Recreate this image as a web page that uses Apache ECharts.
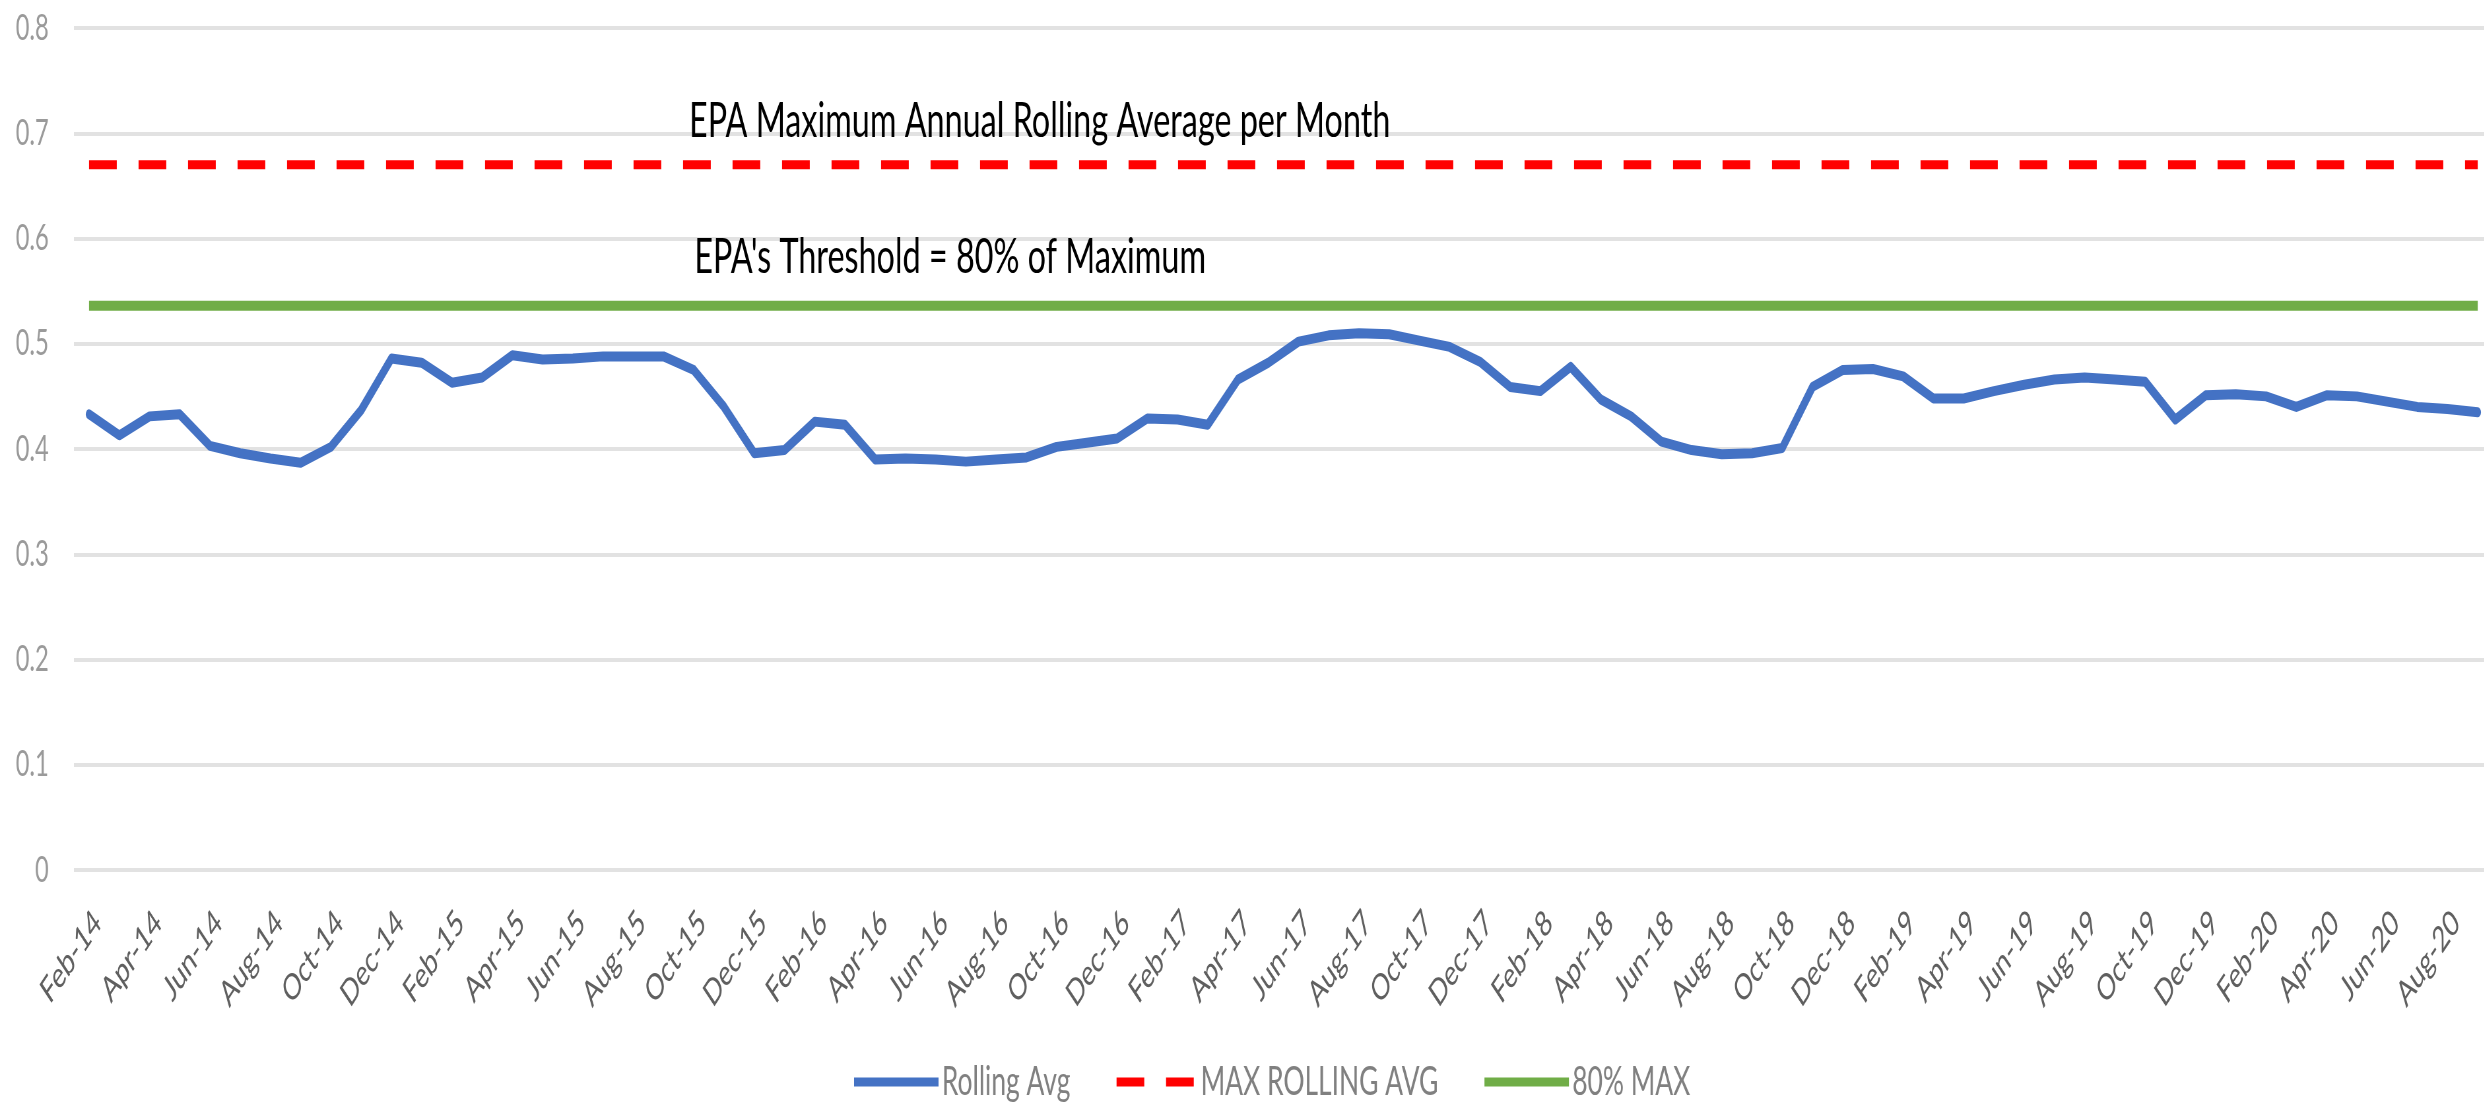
<!DOCTYPE html>
<html>
<head>
<meta charset="utf-8">
<script src="https://cdn.jsdelivr.net/npm/echarts/dist/echarts.min.js"></script>
<style>
html, body { margin: 0; padding: 0; background: #fff; overflow: hidden; }
/* the source picture is squeezed sideways, so draw wide and squeeze */
#chart { width: 3764px; height: 1109px; transform: scaleX(0.66); transform-origin: 0 0; }
</style>
</head>
<body>
<div id="chart"></div>
<script>
var months = [
    'Feb-14','Mar-14','Apr-14','May-14','Jun-14','Jul-14','Aug-14','Sep-14','Oct-14','Nov-14','Dec-14',
    'Jan-15','Feb-15','Mar-15','Apr-15','May-15','Jun-15','Jul-15','Aug-15','Sep-15','Oct-15','Nov-15','Dec-15',
    'Jan-16','Feb-16','Mar-16','Apr-16','May-16','Jun-16','Jul-16','Aug-16','Sep-16','Oct-16','Nov-16','Dec-16',
    'Jan-17','Feb-17','Mar-17','Apr-17','May-17','Jun-17','Jul-17','Aug-17','Sep-17','Oct-17','Nov-17','Dec-17',
    'Jan-18','Feb-18','Mar-18','Apr-18','May-18','Jun-18','Jul-18','Aug-18','Sep-18','Oct-18','Nov-18','Dec-18',
    'Jan-19','Feb-19','Mar-19','Apr-19','May-19','Jun-19','Jul-19','Aug-19','Sep-19','Oct-19','Nov-19','Dec-19',
    'Jan-20','Feb-20','Mar-20','Apr-20','May-20','Jun-20','Jul-20','Aug-20','Sep-20'
];
var rollingAvg = [
    0.433, 0.413, 0.431, 0.433, 0.403, 0.396, 0.391, 0.387, 0.402, 0.437, 0.486,
    0.482, 0.463, 0.468, 0.489, 0.485, 0.486, 0.488, 0.488, 0.488, 0.475, 0.440, 0.396,
    0.399, 0.426, 0.423, 0.390, 0.391, 0.390, 0.388, 0.390, 0.392, 0.402, 0.406, 0.410,
    0.429, 0.428, 0.423, 0.466, 0.482, 0.502, 0.508, 0.510, 0.509, 0.503, 0.497, 0.483,
    0.459, 0.455, 0.478, 0.447, 0.431, 0.407, 0.399, 0.395, 0.396, 0.401, 0.459, 0.475,
    0.476, 0.469, 0.448, 0.448, 0.455, 0.461, 0.466, 0.468, 0.466, 0.464, 0.428, 0.451,
    0.452, 0.450, 0.440, 0.451, 0.450, 0.445, 0.440, 0.438, 0.435
];
var maxRollingAvg = 0.67;
var threshold80 = 0.536;
var legendNames = ['Rolling Avg', 'MAX ROLLING AVG', '80% MAX'];
var noteMax = 'EPA Maximum Annual Rolling Average per Month';
var noteThreshold = "EPA's Threshold = 80% of Maximum";

var first = months[0];
var last = months[months.length - 1];

var chart = echarts.init(document.getElementById('chart'));
var option = {
    backgroundColor: '#fff',
    animation: false,
    grid: {
        left: 112,
        top: 28,
        width: 3665,
        height: 842,
        outerBoundsMode: 'none'
    },
    legend: {
        left: 1289,
        top: 1057,
        itemWidth: 128,
        itemHeight: 9,
        itemGap: 70,
        textStyle: { fontFamily: 'Lato', fontSize: 40, color: '#808080' },
        data: [
            { name: legendNames[0], icon: 'rect' },
            // two dashes, like the dashed series line
            { name: legendNames[1], icon: 'path://M0,0H42V9H0ZM75,0H117V9H75Z' },
            { name: legendNames[2], icon: 'rect' }
        ]
    },
    xAxis: {
        type: 'category',
        data: months,
        boundaryGap: true,
        axisLine: { show: false },
        axisTick: { show: false },
        splitLine: { show: false },
        axisLabel: {
            interval: 1,
            rotate: 45,
            margin: 34,
            verticalAlign: 'top',
            fontFamily: 'Lato',
            fontSize: 36,
            color: '#5f5f5f'
        }
    },
    yAxis: {
        type: 'value',
        min: 0,
        max: 0.8,
        interval: 0.1,
        axisLine: { show: false },
        axisTick: { show: false },
        splitLine: { lineStyle: { color: '#e2e2e2', width: 4 } },
        axisLabel: {
            margin: 38,
            fontFamily: 'Lato',
            fontSize: 36,
            color: '#9a9a9a',
            formatter: function (v) { return +v.toFixed(1) + ''; }
        }
    },
    graphic: [
        {
            type: 'text', left: 1044, top: 97, z: 100,
            style: { text: noteMax, font: '49px Lato', fill: '#000' }
        },
        {
            type: 'text', left: 1052, top: 233, z: 100,
            style: { text: noteThreshold, font: '49px Lato', fill: '#000' }
        }
    ],
    series: [
        {
            name: legendNames[0],
            type: 'line',
            data: rollingAvg,
            symbol: 'none',
            z: 3,
            lineStyle: { color: '#4472c4', width: 10, join: 'round', cap: 'round' },
            itemStyle: { color: '#4472c4' }
        },
        {
            name: legendNames[1],
            type: 'line',
            data: [[first, maxRollingAvg], [last, maxRollingAvg]],
            symbol: 'none',
            lineStyle: { color: '#ff0000', width: 9, type: [42, 33], cap: 'butt' },
            itemStyle: { color: '#ff0000' }
        },
        {
            name: legendNames[2],
            type: 'line',
            data: [[first, threshold80], [last, threshold80]],
            symbol: 'none',
            lineStyle: { color: '#70ad47', width: 10 },
            itemStyle: { color: '#70ad47' }
        }
    ]
};
chart.setOption(option);
</script>
</body>
</html>
